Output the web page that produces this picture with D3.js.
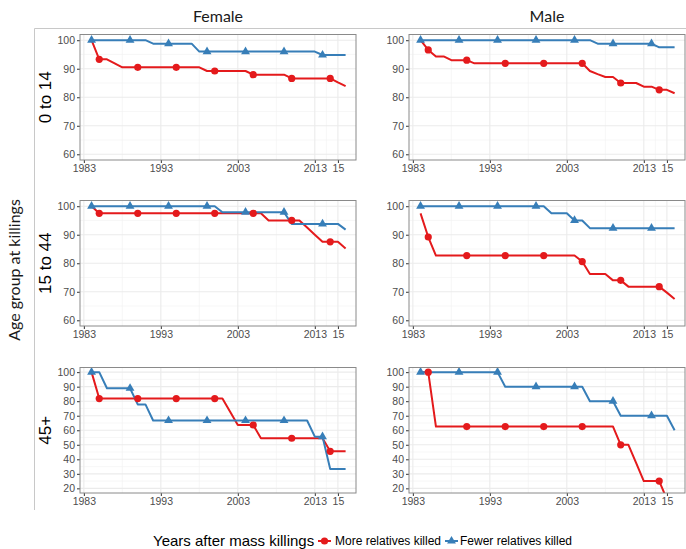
<!DOCTYPE html>
<html>
<head>
<meta charset="utf-8">
<script src="https://cdn.jsdelivr.net/npm/d3@7"></script>
<style>
  body { margin: 0; background: #fff; }
  svg { display: block; }
</style>
</head>
<body>
<div id="chart"></div>
<script>
// annual survival (%) by sex and age group, 1984-2017
const years = [1984, 1985, 1986, 1987, 1988, 1989, 1990, 1991, 1992, 1993,
  1994, 1995, 1996, 1997, 1998, 1999, 2000, 2001, 2002, 2003, 2004, 2005,
  2006, 2007, 2008, 2009, 2010, 2011, 2012, 2013, 2014, 2015, 2016, 2017];

const sexes = ["Female", "Male"];
const ageGroups = ["0 to 14", "15 to 44", "45+"];
const groupNames = ["More relatives killed", "Fewer relatives killed"];

const female014More = [100, 93.3, 93.3, 91.9, 90.5, 90.5, 90.5, 90.5, 90.5, 90.5,
  90.5, 90.5, 90.5, 90.5, 90.5, 89.2, 89.2, 89.2, 89.2, 89.2, 89.2, 87.9,
  87.9, 87.9, 87.9, 87.9, 86.6, 86.6, 86.6, 86.6, 86.6, 86.6, 85.2, 83.9];
const female014Fewer = [100, 100, 100, 100, 100, 100, 100, 100, 98.8, 98.8,
  98.8, 98.8, 98.8, 98.8, 96, 96, 96, 96, 96, 96, 96, 96,
  96, 96, 96, 96, 96, 96, 96, 96, 94.8, 94.8, 94.8, 94.8];
const male014More = [100, 96.6, 94.3, 94.3, 93, 93, 93, 91.9, 91.9, 91.9,
  91.9, 91.9, 91.9, 91.9, 91.9, 91.9, 91.9, 91.9, 91.9, 91.9, 91.9, 91.9,
  89.2, 88.1, 87.1, 87.1, 85, 85, 85, 83.7, 83.7, 82.6, 82.6, 81.4];
const male014Fewer = [100, 100, 100, 100, 100, 100, 100, 100, 100, 100,
  100, 100, 100, 100, 100, 100, 100, 100, 100, 100, 100, 100,
  100, 98.8, 98.8, 98.8, 98.8, 98.8, 98.8, 98.8, 98.8, 97.5, 97.5, 97.5];

const female1544More = [100, 97.5, 97.5, 97.5, 97.5, 97.5, 97.5, 97.5, 97.5, 97.5,
  97.5, 97.5, 97.5, 97.5, 97.5, 97.5, 97.5, 97.5, 97.5, 97.5, 97.5, 97.5,
  97.5, 95, 95, 95, 95, 95, 92.5, 90, 87.5, 87.5, 87.5, 85.2];
const female1544Fewer = [100, 100, 100, 100, 100, 100, 100, 100, 100, 100,
  100, 100, 100, 100, 100, 100, 100, 97.9, 97.9, 97.9, 97.9, 97.9,
  97.9, 97.9, 97.9, 97.9, 93.8, 93.8, 93.8, 93.8, 93.8, 93.8, 93.8, 91.8];
const male1544More = [97.5, 89.2, 82.7, 82.7, 82.7, 82.7, 82.7, 82.7, 82.7, 82.7,
  82.7, 82.7, 82.7, 82.7, 82.7, 82.7, 82.7, 82.7, 82.7, 82.7, 82.7, 80.6,
  76.2, 76.2, 76.2, 74, 74, 71.8, 71.8, 71.8, 71.8, 71.8, 69.7, 67.5];
const male1544Fewer = [100, 100, 100, 100, 100, 100, 100, 100, 100, 100,
  100, 100, 100, 100, 100, 100, 100, 97.5, 97.5, 97.5, 95, 95,
  92.3, 92.3, 92.3, 92.3, 92.3, 92.3, 92.3, 92.3, 92.3, 92.3, 92.3, 92.3];

const female45More = [100, 81.8, 81.8, 81.8, 81.8, 81.8, 81.8, 81.8, 81.8, 81.8,
  81.8, 81.8, 81.8, 81.8, 81.8, 81.8, 81.8, 81.8, 72.7, 63.6, 63.6, 63.6,
  54.5, 54.5, 54.5, 54.5, 54.5, 54.5, 54.5, 54.5, 54.5, 45.5, 45.5, 45.5];
const female45Fewer = [100, 100, 88.9, 88.9, 88.9, 88.9, 77.8, 77.8, 66.7, 66.7,
  66.7, 66.7, 66.7, 66.7, 66.7, 66.7, 66.7, 66.7, 66.7, 66.7, 66.7, 66.7,
  66.7, 66.7, 66.7, 66.7, 66.7, 66.7, 66.7, 55.6, 55.6, 33.3, 33.3, 33.3];
const male45More = [100, 100, 62.5, 62.5, 62.5, 62.5, 62.5, 62.5, 62.5, 62.5,
  62.5, 62.5, 62.5, 62.5, 62.5, 62.5, 62.5, 62.5, 62.5, 62.5, 62.5, 62.5,
  62.5, 62.5, 62.5, 62.5, 50, 50, 37.5, 25, 25, 25, 12.5, 12.5];
const male45Fewer = [100, 100, 100, 100, 100, 100, 100, 100, 100, 100,
  100, 90, 90, 90, 90, 90, 90, 90, 90, 90, 90, 90,
  80, 80, 80, 80, 70, 70, 70, 70, 70, 70, 70, 60];

// years that carry a point marker
const moreMarkerYears = [1985, 1990, 1995, 2000, 2005, 2010, 2015];
const fewerMarkerYears = [1984, 1989, 1994, 1999, 2004, 2009, 2014];

const xTicks = [1983, 1993, 2003, 2013, 2016];
const xTickLabels = ["1983", "1993", "2003", "2013", "15"];
const xMinor = [1988, 1998, 2008, 2014.5];
const yTicksTop = [60, 70, 80, 90, 100];
const yTicks45 = [20, 30, 40, 50, 60, 70, 80, 90, 100];

const panels = [
  [[female014More, female014Fewer], [male014More, male014Fewer]],
  [[female1544More, female1544Fewer], [male1544More, male1544Fewer]],
  [[female45More, female45Fewer], [male45More, male45Fewer]],
];

const width = 686;
const height = 549;
const colors = ["#E41A1C", "#377EB8"];
const colLeft = [80, 409];
const panelW = 276;
const rowTop = [34.5, 200.5, 367.5];
const panelH = 125.5;
const tickFont = "'Liberation Sans', Arial, sans-serif";
const titleFont = "Lato, 'Open Sans', sans-serif";

const svg = d3
  .select("#chart")
  .append("svg")
  .attr("width", width)
  .attr("height", height)
  .attr("viewBox", `0 0 ${width} ${height}`);

const x = d3.scaleLinear().domain([1982.5, 2018.35]).range([0, panelW]);

// outer frame pieces
svg.append("line")
  .attr("x1", 34.5).attr("x2", 34.5).attr("y1", 28.5).attr("y2", 510)
  .attr("stroke", "#c8c8c8");
svg.append("line")
  .attr("x1", 34.5).attr("x2", width).attr("y1", 28.5).attr("y2", 28.5)
  .attr("stroke", "#c8c8c8");

sexes.forEach((s, ci) => {
  svg.append("text")
    .attr("x", colLeft[ci] + panelW / 2)
    .attr("y", 22)
    .attr("text-anchor", "middle")
    .attr("font-family", titleFont)
    .attr("font-size", 16)
    .attr("fill", "#1a1a1a")
    .text(s);
});

svg.append("text")
  .attr("transform", `translate(20,270) rotate(-90)`)
  .attr("text-anchor", "middle")
  .attr("font-family", titleFont)
  .attr("font-size", 16)
  .attr("fill", "#1a1a1a")
  .text("Age group at killings");

ageGroups.forEach((a, ri) => {
  svg.append("text")
    .attr("transform", `translate(51,${rowTop[ri] + panelH / 2}) rotate(-90)`)
    .attr("text-anchor", "middle")
    .attr("font-family", tickFont)
    .attr("font-size", 17)
    .attr("fill", "#000")
    .text(a);
});

const triangle = d3.symbol().type(d3.symbolTriangle).size(34);

panels.forEach((row, ri) => {
  const yDomain = ri === 2 ? [16.8, 103.2] : [58, 102];
  const yTicks = ri === 2 ? yTicks45 : yTicksTop;
  const yMinor = yTicks.slice(1).map((t) => t - 5).concat(ri === 2 ? [] : []);
  const y = d3.scaleLinear().domain(yDomain).range([panelH, 0]);

  row.forEach((series, ci) => {
    const g = svg.append("g")
      .attr("transform", `translate(${colLeft[ci]},${rowTop[ri]})`);
    const clipId = `clip-${ri}-${ci}`;
    g.append("clipPath").attr("id", clipId)
      .append("rect").attr("width", panelW).attr("height", panelH);

    // grid
    g.selectAll(".xminor").data(xMinor).join("line")
      .attr("x1", (d) => x(d)).attr("x2", (d) => x(d))
      .attr("y1", 0).attr("y2", panelH)
      .attr("stroke", "#f2f2f2").attr("stroke-width", 0.6);
    g.selectAll(".yminor").data(yMinor).join("line")
      .attr("y1", (d) => y(d)).attr("y2", (d) => y(d))
      .attr("x1", 0).attr("x2", panelW)
      .attr("stroke", "#f2f2f2").attr("stroke-width", 0.6);
    g.selectAll(".xmajor").data(xTicks).join("line")
      .attr("x1", (d) => x(d)).attr("x2", (d) => x(d))
      .attr("y1", 0).attr("y2", panelH)
      .attr("stroke", "#ebebeb").attr("stroke-width", 1.1);
    g.selectAll(".ymajor").data(yTicks).join("line")
      .attr("y1", (d) => y(d)).attr("y2", (d) => y(d))
      .attr("x1", 0).attr("x2", panelW)
      .attr("stroke", "#ebebeb").attr("stroke-width", 1.1);

    // axes
    const ax = g.append("g")
      .attr("transform", `translate(0,${panelH})`)
      .call(d3.axisBottom(x).tickValues(xTicks)
        .tickFormat((d, i) => xTickLabels[i]).tickSize(3).tickPadding(2));
    const ay = g.append("g")
      .call(d3.axisLeft(y).tickValues(yTicks).tickSize(3).tickPadding(2));
    [ax, ay].forEach((a) => {
      a.select(".domain").remove();
      a.selectAll("line").attr("stroke", "#333");
      a.selectAll("text")
        .attr("fill", "#4d4d4d")
        .attr("font-family", tickFont)
        .attr("font-size", 10.5);
    });

    const plot = g.append("g").attr("clip-path", `url(#${clipId})`);
    const line = d3.line()
      .x((d, i) => x(years[i]))
      .y((d) => y(d));

    series.forEach((vals, k) => {
      plot.append("path")
        .datum(vals)
        .attr("fill", "none")
        .attr("stroke", colors[k])
        .attr("stroke-width", 2)
        .attr("stroke-linejoin", "round")
        .attr("d", line);
    });

    const moreVals = series[0];
    plot.selectAll(".pt-more")
      .data(moreMarkerYears)
      .join("circle")
      .attr("cx", (d) => x(d))
      .attr("cy", (d) => y(moreVals[years.indexOf(d)]))
      .attr("r", 3.6)
      .attr("fill", colors[0]);

    const fewerVals = series[1];
    plot.selectAll(".pt-fewer")
      .data(fewerMarkerYears)
      .join("path")
      .attr("d", triangle)
      .attr("transform", (d) =>
        `translate(${x(d)},${y(fewerVals[years.indexOf(d)])})`)
      .attr("fill", colors[1]);

    g.append("rect")
      .attr("width", panelW).attr("height", panelH)
      .attr("fill", "none").attr("stroke", "#8a8a8a").attr("stroke-width", 1);
  });
});

// legend
const leg = svg.append("g").attr("transform", "translate(0,541)");
leg.append("text")
  .attr("x", 153).attr("y", 0).attr("dy", "0.35em")
  .attr("font-family", tickFont).attr("font-size", 15).attr("fill", "#000")
  .text("Years after mass killings");
const legX = [318, 445];
const legTextX = [335, 460];
groupNames.forEach((n, k) => {
  leg.append("line")
    .attr("x1", legX[k]).attr("x2", legX[k] + 13)
    .attr("stroke", colors[k]).attr("stroke-width", 2);
  if (k === 0) {
    leg.append("circle").attr("cx", legX[k] + 6.5).attr("r", 3.6)
      .attr("fill", colors[k]);
  } else {
    leg.append("path").attr("d", triangle)
      .attr("transform", `translate(${legX[k] + 6.5},0)`)
      .attr("fill", colors[k]);
  }
  leg.append("text")
    .attr("x", legTextX[k]).attr("y", 0).attr("dy", "0.35em")
    .attr("font-family", tickFont).attr("font-size", 12).attr("fill", "#000")
    .text(n);
});
</script>
</body>
</html>
